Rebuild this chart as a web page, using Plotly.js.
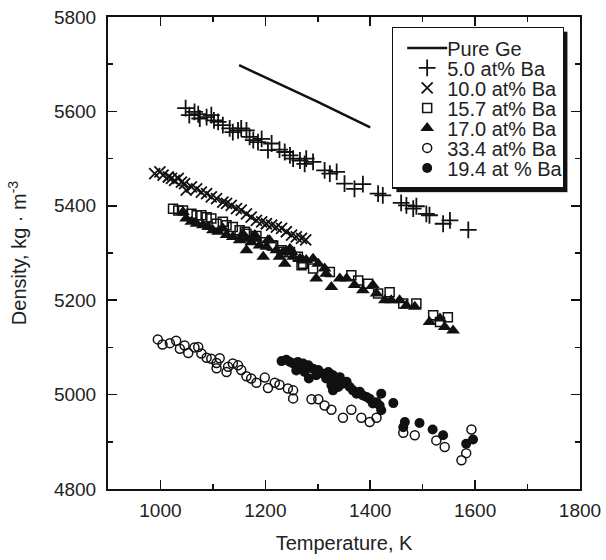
<!DOCTYPE html>
<html>
<head>
<meta charset="utf-8">
<script src="https://cdn.plot.ly/plotly-3.0.1.min.js"></script>
<style>html,body{margin:0;padding:0;background:#fff;}#chart{width:606px;height:560px;}</style>
</head>
<body>
<div id="chart"></div>
<script>
// Pure Ge
const geT = [1150, 1300, 1400];
const geD = [5698, 5620, 5566];

// 5.0 at% Ba
const ba50T = [1048,1055,1065,1072,1075,1088,1097,1102,1110,1119,1132,1138,1148,1154,1164,1170,1177,1186,1193,1205,1212,1227,1237,1247,1253,1266,1275,1278,1291,1313,1323,1336,1351,1370,1386,1415,1424,1459,1469,1482,1488,1507,1513,1539,1552,1587];
const ba50D = [5607,5592,5599,5594,5585,5588,5592,5581,5578,5571,5564,5556,5560,5564,5560,5546,5539,5535,5542,5518,5532,5519,5514,5507,5500,5496,5489,5500,5493,5475,5468,5472,5447,5436,5446,5426,5422,5406,5401,5394,5399,5383,5380,5362,5369,5349];

// 10.0 at% Ba
const ba100T = [989,999,1005,1015,1021,1027,1034,1040,1046,1049,1059,1069,1078,1088,1097,1107,1119,1126,1135,1145,1154,1164,1173,1183,1193,1202,1212,1221,1231,1240,1250,1259,1269,1277];
const ba100D = [5468,5472,5465,5461,5458,5454,5458,5450,5447,5433,5440,5436,5429,5426,5419,5415,5408,5405,5401,5394,5391,5383,5376,5369,5366,5362,5359,5355,5352,5345,5338,5334,5331,5328];

// 15.7 at% Ba
const ba157T = [1024,1034,1043,1059,1069,1078,1088,1097,1107,1119,1126,1138,1151,1161,1164,1183,1196,1212,1215,1231,1234,1247,1262,1269,1272,1291,1323,1364,1377,1396,1415,1437,1463,1488,1520,1533,1548];
const ba157D = [5394,5390,5390,5383,5380,5380,5376,5373,5362,5366,5359,5355,5348,5345,5341,5336,5323,5316,5316,5306,5302,5302,5292,5274,5277,5267,5260,5253,5242,5235,5214,5217,5193,5193,5168,5154,5164];

// 17.0 at% Ba
const ba170T = [1043,1049,1059,1069,1081,1091,1100,1110,1119,1126,1138,1151,1157,1164,1164,1173,1180,1183,1189,1196,1202,1205,1208,1221,1227,1234,1237,1247,1250,1253,1266,1272,1278,1291,1297,1301,1313,1316,1326,1342,1355,1370,1386,1405,1412,1428,1440,1456,1469,1485,1513,1533,1542,1558];
const ba170D = [5387,5373,5366,5362,5359,5355,5348,5345,5352,5338,5334,5327,5341,5330,5306,5323,5338,5330,5316,5292,5313,5327,5327,5306,5292,5302,5277,5309,5302,5292,5288,5284,5285,5288,5246,5277,5267,5256,5228,5246,5246,5232,5221,5232,5214,5200,5200,5200,5189,5186,5154,5161,5143,5136];

// 33.4 at% Ba
const ba334T = [995,1004,1018,1030,1037,1046,1053,1065,1072,1078,1088,1097,1107,1107,1113,1126,1129,1138,1148,1154,1164,1173,1183,1199,1205,1218,1227,1243,1253,1253,1288,1301,1313,1326,1348,1364,1383,1399,1412,1463,1485,1526,1542,1574,1583,1593];
const ba334D = [5117,5106,5109,5114,5097,5104,5088,5100,5101,5087,5078,5076,5067,5056,5077,5048,5059,5066,5062,5052,5039,5034,5025,5036,5014,5025,5021,5013,5009,4992,4990,4990,4977,4968,4951,4968,4951,4942,4951,4919,4914,4903,4889,4861,4876,4926];

// 19.4 at % Ba
const ba194T = [1231,1240,1247,1253,1259,1262,1266,1272,1275,1282,1283,1291,1297,1301,1310,1316,1320,1323,1326,1329,1329,1332,1336,1339,1342,1348,1355,1361,1367,1374,1380,1386,1393,1399,1405,1412,1418,1421,1421,1444,1463,1466,1494,1519,1539,1583,1596];
const ba194D = [5071,5074,5069,5066,5051,5069,5059,5066,5048,5062,5034,5055,5041,5052,5044,5034,5048,5044,5020,5041,5009,5037,5030,5016,5037,5023,5027,5016,5009,5002,5006,4998,4995,4991,4981,4984,4977,5002,4967,4982,4931,4942,4940,4926,4914,4896,4905];

const xTickVals = [1000, 1200, 1400, 1600, 1800];
const yTickVals = [4800, 5000, 5200, 5400, 5600, 5800];

const ink = '#111';
const FONT = '"Liberation Sans", Arial, Helvetica, sans-serif';

function mk(name, T, D, symbol, size, lw) {
  return {
    type: 'scatter', mode: 'markers', name: name, x: T, y: D,
    marker: {symbol: symbol, size: size, color: ink, line: {color: ink, width: lw}},
    cliponaxis: false
  };
}

const traces = [
  {type: 'scatter', mode: 'lines', name: 'Pure Ge', x: geT, y: geD, line: {color: ink, width: 2.5}},
  mk('5.0 at% Ba', ba50T, ba50D, 'cross-thin-open', 12, 1.8),
  mk('10.0 at% Ba', ba100T, ba100D, 'x-thin-open', 11, 1.8),
  mk('15.7 at% Ba', ba157T, ba157D, 'square-open', 9, 1.5),
  mk('17.0 at% Ba', ba170T, ba170D, 'triangle-up', 12, 0),
  mk('33.4 at% Ba', ba334T, ba334D, 'circle-open', 9, 1.5),
  mk('19.4 at % Ba', ba194T, ba194D, 'circle', 10, 0)
];

const axisCommon = {
  showgrid: false, zeroline: false, showline: true, linecolor: ink, linewidth: 2,
  mirror: 'allticks', ticks: 'inside', ticklen: 9, tickwidth: 1.5, tickcolor: ink,
  tickfont: {family: FONT, size: 19, color: '#222'}
};

const layout = {
  width: 606, height: 560,
  margin: {l: 108, r: 26, t: 17, b: 71},
  paper_bgcolor: '#fff', plot_bgcolor: '#fff',
  showlegend: true,
  font: {family: FONT, color: '#222'},
  xaxis: Object.assign({}, axisCommon, {
    range: [900, 1800], tickvals: xTickVals, ticktext: xTickVals.map(String),
    ticklabelstandoff: 3,
    minor: {dtick: 100, tick0: 900, ticks: 'inside', ticklen: 5, tickwidth: 1.5, tickcolor: ink, showgrid: false},
    title: {text: 'Temperature, K', font: {family: FONT, size: 20, color: '#222'}, standoff: 16}
  }),
  yaxis: Object.assign({}, axisCommon, {
    range: [4800, 5800], tickvals: yTickVals, ticktext: yTickVals.map(String),
    ticklabelstandoff: 6,
    minor: {dtick: 100, tick0: 4800, ticks: 'inside', ticklen: 5, tickwidth: 1.5, tickcolor: ink, showgrid: false},
    title: {text: 'Density, kg · m<sup>-3</sup>', font: {family: FONT, size: 20, color: '#222'}, standoff: 22}
  }),
  legend: {
    x: 0.601, xanchor: 'left', y: 0.979, yanchor: 'top',
    bgcolor: '#fff', bordercolor: ink, borderwidth: 1.5,
    font: {family: FONT, size: 20, color: '#222'},
    tracegroupgap: 0, itemwidth: 40
  }
};

const ROW = 20, SHIFT_X = 9, TEXT_DX = -5, TARGET_W = 171, SHADOW = 4;

function styleLegend(gd) {
  const leg = gd.querySelector('g.legend');
  if (!leg || leg.getAttribute('data-tweaked')) return;
  const bg = leg.querySelector('rect.bg');
  const items = leg.querySelectorAll('g.traces');
  let y0 = null, lastOrig = 0, lastNew = 0;
  items.forEach(function (g, i) {
    const m = /translate\(\s*([-\d.e]+)[ ,]+([-\d.e]+)\s*\)/.exec(g.getAttribute('transform') || '');
    if (!m) return;
    const x = parseFloat(m[1]), y = parseFloat(m[2]);
    if (y0 === null) y0 = y;
    const ny = y0 + i * ROW;
    lastOrig = y; lastNew = ny;
    g.setAttribute('transform', 'translate(' + (x + SHIFT_X) + ',' + ny + ')');
    const t = g.querySelector('text.legendtext');
    if (t) {
      t.setAttribute('x', parseFloat(t.getAttribute('x') || 0) + TEXT_DX);
      t.querySelectorAll('tspan[x]').forEach(function (s) {
        s.setAttribute('x', parseFloat(s.getAttribute('x')) + TEXT_DX);
      });
    }
  });
  const h = parseFloat(bg.getAttribute('height')) - (lastOrig - lastNew);
  const w = TARGET_W;
  bg.setAttribute('height', h);
  bg.setAttribute('width', w);
  const bx = parseFloat(bg.getAttribute('x') || 0), by = parseFloat(bg.getAttribute('y') || 0);
  const sh = document.createElementNS('http://www.w3.org/2000/svg', 'rect');
  sh.setAttribute('x', bx + SHADOW);
  sh.setAttribute('y', by + SHADOW);
  sh.setAttribute('width', w);
  sh.setAttribute('height', h);
  sh.setAttribute('fill', ink);
  leg.insertBefore(sh, leg.firstChild);
  const sb = leg.querySelector('g.scrollbox');
  if (sb) sb.removeAttribute('clip-path');
  leg.setAttribute('data-tweaked', '1');
}

Plotly.newPlot('chart', traces, layout, {displayModeBar: false, staticPlot: true}).then(styleLegend);
</script>
</body>
</html>
